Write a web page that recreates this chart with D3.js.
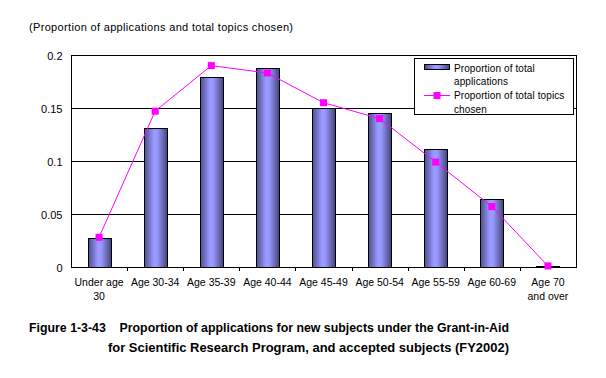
<!DOCTYPE html>
<html><head><meta charset="utf-8">
<script src="https://cdn.jsdelivr.net/npm/d3@7"></script>
<style>body{margin:0;background:#fff;}svg{display:block;font-family:"Liberation Sans",Arial,sans-serif;}</style>
</head><body>
<script>
const categories = [["Under age","30"],["Age 30-34"],["Age 35-39"],["Age 40-44"],["Age 45-49"],["Age 50-54"],["Age 55-59"],["Age 60-69"],["Age 70","and over"]];
const applications = [0.027,0.131,0.179,0.1875,0.150,0.145,0.111,0.064,0.001];
const topicsChosen = [0.028,0.147,0.190,0.183,0.155,0.140,0.099,0.057,0.001];
const yTicks = [0,0.05,0.1,0.15,0.2];
const yTickLabels = ["0","0.05","0.1","0.15","0.2"];

const W=606,H=378;
const m={l:71,r:30,t:55,b:111};
const svg=d3.select("body").append("svg").attr("width",W).attr("height",H);
const defs=svg.append("defs");
const g=defs.append("linearGradient").attr("id","bg").attr("x1","0").attr("x2","1").attr("y1","0").attr("y2","0");
g.append("stop").attr("offset","0").attr("stop-color","#4d4d8c");
g.append("stop").attr("offset","0.4").attr("stop-color","#9999ff");
g.append("stop").attr("offset","0.55").attr("stop-color","#9999ff");
g.append("stop").attr("offset","1").attr("stop-color","#44447a");

const x=d3.scaleBand().domain(d3.range(categories.length)).range([m.l,W-m.r]).paddingInner(0).paddingOuter(0);
const y=d3.scaleLinear().domain([0,0.2]).range([H-m.b,m.t]);

// gridlines
svg.append("g").selectAll("line").data(yTicks.slice(1,4)).join("line")
 .attr("x1",m.l).attr("x2",W-m.r).attr("y1",d=>Math.round(y(d))+0.5).attr("y2",d=>Math.round(y(d))+0.5)
 .attr("stroke","#000");

// bars
const bw=23;
svg.append("g").selectAll("rect").data(applications).join("rect")
 .attr("x",(d,i)=>Math.round(x(i)+x.bandwidth()/2-bw/2)+0.5)
 .attr("y",d=>Math.round(y(d))+0.5)
 .attr("width",bw)
 .attr("height",d=>Math.max(0,Math.round(y(0))-Math.round(y(d))))
 .attr("fill","url(#bg)").attr("stroke","#000").attr("stroke-width",1);

// plot border
svg.append("rect").attr("x",m.l+0.5).attr("y",m.t+0.5).attr("width",W-m.r-m.l).attr("height",H-m.b-m.t)
 .attr("fill","none").attr("stroke","#000");

// y axis
const ya=svg.append("g").attr("transform",`translate(${m.l+0.5},0.5)`)
 .call(d3.axisLeft(y).tickValues(yTicks).tickFormat((d,i)=>yTickLabels[i]).tickSize(0).tickPadding(9));
ya.select(".domain").remove();
ya.selectAll("text").attr("font-size",11).attr("font-family","Liberation Sans,Arial,sans-serif").attr("fill","#000");

// x ticks at boundaries
svg.append("g").selectAll("line").data(d3.range(1,categories.length)).join("line")
 .attr("x1",i=>Math.round(x(i))+0.5).attr("x2",i=>Math.round(x(i))+0.5)
 .attr("y1",y(0)).attr("y2",y(0)+4).attr("stroke","#000");

// x labels
const xl=svg.append("g");
categories.forEach((c,i)=>{
  const t=xl.append("text").attr("x",x(i)+x.bandwidth()/2).attr("y",y(0)+19)
   .attr("text-anchor","middle").attr("font-size",10.5);
  c.forEach((s,j)=>t.append("tspan").attr("x",x(i)+x.bandwidth()/2).attr("dy",j?14:0).text(s));
});

// line
const line=d3.line().x((d,i)=>x(i)+x.bandwidth()/2).y(d=>y(d));
svg.append("path").datum(topicsChosen).attr("d",line).attr("fill","none").attr("stroke","#ff00ff").attr("stroke-width",1);
svg.append("g").selectAll("rect").data(topicsChosen).join("rect")
 .attr("x",(d,i)=>x(i)+x.bandwidth()/2-3.5).attr("y",d=>y(d)-3.5).attr("width",7).attr("height",7).attr("fill","#ff00ff");

// legend
const lg=svg.append("g").attr("transform","translate(414,58)");
lg.append("rect").attr("x",0.5).attr("y",0.5).attr("width",159).attr("height",56).attr("fill","#fff").attr("stroke","#000");
lg.append("rect").attr("x",10.5).attr("y",6.5).attr("width",25).attr("height",5).attr("fill","url(#bg)").attr("stroke","#000");
lg.append("line").attr("x1",10).attr("x2",36).attr("y1",37.5).attr("y2",37.5).attr("stroke","#ff00ff");
lg.append("rect").attr("x",19.5).attr("y",34).attr("width",7).attr("height",7).attr("fill","#ff00ff");
const lt=[["Proportion of total",10],["applications",23],["Proportion of total topics",37],["chosen",51]];
lg.selectAll("text.l").data(lt).join("text").attr("x",40).attr("y",d=>d[1]+3.5).attr("font-size",10).attr("letter-spacing","0.1").text(d=>d[0]);

// axis title
svg.append("text").attr("x",29).attr("y",31).attr("font-size",11).attr("textLength",264).attr("lengthAdjust","spacing")
 .text("(Proportion of applications and total topics chosen)");

// caption
svg.append("text").attr("x",29).attr("y",332).attr("font-size",13.5).attr("font-weight","bold").attr("xml:space","preserve")
 .attr("textLength",480).attr("lengthAdjust","spacingAndGlyphs")
 .text("Figure 1-3-43    Proportion of applications for new subjects under the Grant-in-Aid");
svg.append("text").attr("x",108).attr("y",352).attr("font-size",13.5).attr("font-weight","bold")
 .attr("textLength",401).attr("lengthAdjust","spacingAndGlyphs")
 .text("for Scientific Research Program, and accepted subjects (FY2002)");
</script>
</body></html>
